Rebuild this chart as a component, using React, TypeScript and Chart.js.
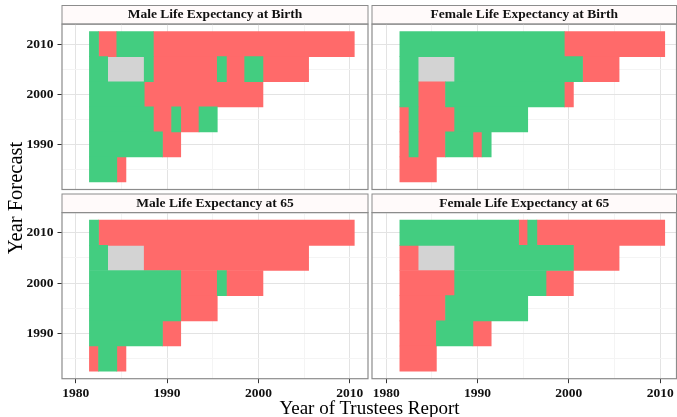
import React, { useEffect, useRef } from "react";
import { Chart, registerables } from "chart.js";

Chart.register(...registerables);

// Each run: [code, first report year, last report year]; G = green, R = red, N = missing (grey)
type Run = [string, number, number];

const forecastYears = [2010, 2005, 2000, 1995, 1990, 1985];
const xTickValues = [1980, 1985, 1990, 1995, 2000, 2005, 2010];
const yTickValues = [1985, 1990, 1995, 2000, 2005, 2010];

const maleBirth: Run[][] = [
  [["G", 1982, 1982], ["R", 1983, 1984], ["G", 1985, 1988], ["R", 1989, 2010]],
  [["G", 1982, 1983], ["N", 1984, 1987], ["G", 1988, 1988], ["R", 1989, 1995], ["G", 1996, 1996], ["R", 1997, 1998], ["G", 1999, 2000], ["R", 2001, 2005]],
  [["G", 1982, 1987], ["R", 1988, 2000]],
  [["G", 1982, 1988], ["R", 1989, 1990], ["G", 1991, 1991], ["R", 1992, 1993], ["G", 1994, 1995]],
  [["G", 1982, 1989], ["R", 1990, 1991]],
  [["G", 1982, 1984], ["R", 1985, 1985]],
];

const femaleBirth: Run[][] = [
  [["G", 1982, 1999], ["R", 2000, 2010]],
  [["G", 1982, 1983], ["N", 1984, 1987], ["G", 1988, 2001], ["R", 2002, 2005]],
  [["G", 1982, 1983], ["R", 1984, 1986], ["G", 1987, 1999], ["R", 2000, 2000]],
  [["R", 1982, 1982], ["G", 1983, 1983], ["R", 1984, 1987], ["G", 1988, 1995]],
  [["R", 1982, 1982], ["G", 1983, 1983], ["R", 1984, 1986], ["G", 1987, 1989], ["R", 1990, 1990], ["G", 1991, 1991]],
  [["R", 1982, 1985]],
];

const male65: Run[][] = [
  [["G", 1982, 1982], ["R", 1983, 2010]],
  [["G", 1982, 1983], ["N", 1984, 1987], ["R", 1988, 2005]],
  [["G", 1982, 1991], ["R", 1992, 1995], ["G", 1996, 1996], ["R", 1997, 2000]],
  [["G", 1982, 1991], ["R", 1992, 1995]],
  [["G", 1982, 1989], ["R", 1990, 1991]],
  [["R", 1982, 1982], ["G", 1983, 1984], ["R", 1985, 1985]],
];

const female65: Run[][] = [
  [["G", 1982, 1994], ["R", 1995, 1995], ["G", 1996, 1996], ["R", 1997, 2010]],
  [["R", 1982, 1983], ["N", 1984, 1987], ["G", 1988, 2000], ["R", 2001, 2005]],
  [["R", 1982, 1987], ["G", 1988, 1997], ["R", 1998, 2000]],
  [["R", 1982, 1986], ["G", 1987, 1995]],
  [["R", 1982, 1985], ["G", 1986, 1989], ["R", 1990, 1991]],
  [["R", 1982, 1985]],
];

const panelTitles = [
  "Male Life Expectancy at Birth",
  "Female Life Expectancy at Birth",
  "Male Life Expectancy at 65",
  "Female Life Expectancy at 65",
];

const xAxisTitle = "Year of Trustees Report";
const yAxisTitle = "Year Forecast";

const FILL: Record<string, string> = { G: "#43CD80", R: "#FF6A6A", N: "#D3D3D3" };
const FONT = "'Liberation Serif', 'Times New Roman', serif";

function buildDatasets(rows: Run[][]) {
  return ["G", "R", "N"].map((code) => {
    const data: { x: [number, number]; y: number }[] = [];
    rows.forEach((runs, i) => {
      runs.forEach(([c, a, b]) => {
        if (c === code) data.push({ x: [a - 0.5, b + 0.5], y: forecastYears[i] });
      });
    });
    return {
      data,
      backgroundColor: FILL[code],
      borderWidth: 0,
      grouped: false,
      categoryPercentage: 1,
      barPercentage: 1,
    };
  });
}

const stripPlugin = {
  id: "strip",
  beforeDraw(chart: any) {
    const { ctx, chartArea: a } = chart;
    const tb = chart.titleBlock;
    const top = tb ? tb.top : a.top - 19;
    ctx.save();
    ctx.fillStyle = "#FFFAFA";
    ctx.fillRect(a.left, top, a.right - a.left, a.top - top);
    ctx.strokeStyle = "#8C8C8C";
    ctx.lineWidth = 1;
    ctx.strokeRect(a.left, top, a.right - a.left, a.top - top);
    ctx.restore();
  },
  afterDraw(chart: any) {
    const { ctx, chartArea: a } = chart;
    ctx.save();
    ctx.strokeStyle = "#8C8C8C";
    ctx.lineWidth = 1.2;
    ctx.strokeRect(a.left, a.top, a.right - a.left, a.bottom - a.top);
    ctx.restore();
  },
};

const gridColor = (c: any) =>
  c.tick && c.tick.value % 10 === 0 ? "#E3E3E3" : "#F4F4F4";
const tickColor = (c: any) =>
  c.tick && c.tick.value % 10 === 0 ? "#333333" : "rgba(0,0,0,0)";
const tickLabel = (v: any) => (Number(v) % 10 === 0 ? String(v) : "");

interface PanelSpec {
  rows: Run[][];
  title: string;
  left: number;
  top: number;
  width: number;
  height: number;
  padding: { top: number; left: number; right: number; bottom: number };
  showX: boolean;
  showY: boolean;
  xMin: number;
  xMax: number;
  xAxisH: number;
  yAxisW: number;
}

function Panel(p: PanelSpec) {
  const ref = useRef<HTMLCanvasElement | null>(null);
  useEffect(() => {
    if (!ref.current) return;
    const chart = new Chart(ref.current, {
      type: "bar",
      data: { datasets: buildDatasets(p.rows) as any },
      options: {
        indexAxis: "y",
        animation: false,
        responsive: false,
        maintainAspectRatio: false,
        events: [],
        layout: { padding: p.padding, autoPadding: false } as any,
        plugins: {
          legend: { display: false },
          tooltip: { enabled: false },
          title: {
            display: true,
            text: p.title,
            fullSize: false,
            color: "#111111",
            font: { family: FONT, size: 13.5, weight: "bold" },
            padding: { top: 1.4, bottom: 1 },
          },
        },
        scales: {
          x: {
            type: "linear",
            offset: false,
            min: p.xMin,
            max: p.xMax,
            afterBuildTicks: (s: any) => {
              s.ticks = xTickValues.map((v) => ({ value: v }));
            },
            afterFit: (s: any) => {
              s.height = p.xAxisH;
              s.paddingLeft = 0;
              s.paddingRight = 0;
              s.paddingTop = 0;
              s.paddingBottom = 0;
            },
            border: { display: false },
            grid: {
              offset: false,
              color: gridColor,
              lineWidth: 1,
              drawTicks: p.showX,
              tickLength: 4.5,
              tickColor,
              tickWidth: 1,
            },
            ticks: {
              display: p.showX,
              callback: tickLabel,
              autoSkip: false,
              maxRotation: 0,
              padding: 2,
              color: "#111111",
              font: { family: FONT, size: 13.5, weight: "bold" },
            },
          },
          y: {
            type: "linear",
            offset: false,
            min: 1981,
            max: 2014,
            afterBuildTicks: (s: any) => {
              s.ticks = yTickValues.map((v) => ({ value: v }));
            },
            afterFit: (s: any) => {
              s.width = p.yAxisW;
              s.paddingLeft = 0;
              s.paddingRight = 0;
              s.paddingTop = 0;
              s.paddingBottom = 0;
            },
            border: { display: false },
            grid: {
              offset: false,
              color: gridColor,
              lineWidth: 1,
              drawTicks: p.showY,
              tickLength: 4.5,
              tickColor,
              tickWidth: 1,
            },
            ticks: {
              display: p.showY,
              callback: tickLabel,
              autoSkip: false,
              padding: 4,
              color: "#111111",
              font: { family: FONT, size: 13.5, weight: "bold" },
            },
          },
        },
      } as any,
      plugins: [stripPlugin],
    });
    return () => chart.destroy();
  }, []);
  return (
    <canvas
      ref={ref}
      width={p.width}
      height={p.height}
      style={{ position: "absolute", left: p.left, top: p.top, width: p.width, height: p.height }}
    />
  );
}

export default function App() {
  const pxPerYear = 306 / 33.5;
  const rightMax = 1978.45 + 304.5 / pxPerYear;
  const specs: PanelSpec[] = [
    {
      rows: maleBirth, title: panelTitles[0], left: 0, top: 0, width: 372, height: 192,
      padding: { top: 5.5, left: 0, right: 4, bottom: 2.5 }, showX: false, showY: true,
      xMin: 1978.5, xMax: 2012, xAxisH: 0, yAxisW: 62,
    },
    {
      rows: femaleBirth, title: panelTitles[1], left: 368, top: 0, width: 309, height: 192,
      padding: { top: 5.5, left: 4, right: 0.5, bottom: 2.5 }, showX: false, showY: false,
      xMin: 1978.45, xMax: rightMax, xAxisH: 0, yAxisW: 0,
    },
    {
      rows: male65, title: panelTitles[2], left: 0, top: 170, width: 372, height: 247,
      padding: { top: 24, left: 0, right: 4, bottom: 0 }, showX: true, showY: true,
      xMin: 1978.5, xMax: 2012, xAxisH: 38.3, yAxisW: 62,
    },
    {
      rows: female65, title: panelTitles[3], left: 368, top: 170, width: 309, height: 247,
      padding: { top: 24, left: 4, right: 0.5, bottom: 0 }, showX: true, showY: false,
      xMin: 1978.45, xMax: rightMax, xAxisH: 38.3, yAxisW: 0,
    },
  ];
  return (
    <div
      style={{
        position: "fixed", left: 0, top: 0, width: 677, height: 417,
        overflow: "hidden", background: "#FFFFFF", fontFamily: FONT,
      }}
    >
      {specs.map((s, i) => (
        <Panel key={i} {...s} />
      ))}
      <div
        style={{
          position: "absolute", left: 62, top: 398, width: 615, height: 19,
          lineHeight: "19px", fontSize: 19, textAlign: "center", color: "#000",
          whiteSpace: "nowrap",
        }}
      >
        {xAxisTitle}
      </div>
      <div
        style={{
          position: "absolute", left: 14.5 - 100, top: 198 - 10, width: 200, height: 20,
          lineHeight: "20px", fontSize: 20.5, textAlign: "center", color: "#000",
          whiteSpace: "nowrap", transform: "rotate(-90deg)",
        }}
      >
        {yAxisTitle}
      </div>
    </div>
  );
}
